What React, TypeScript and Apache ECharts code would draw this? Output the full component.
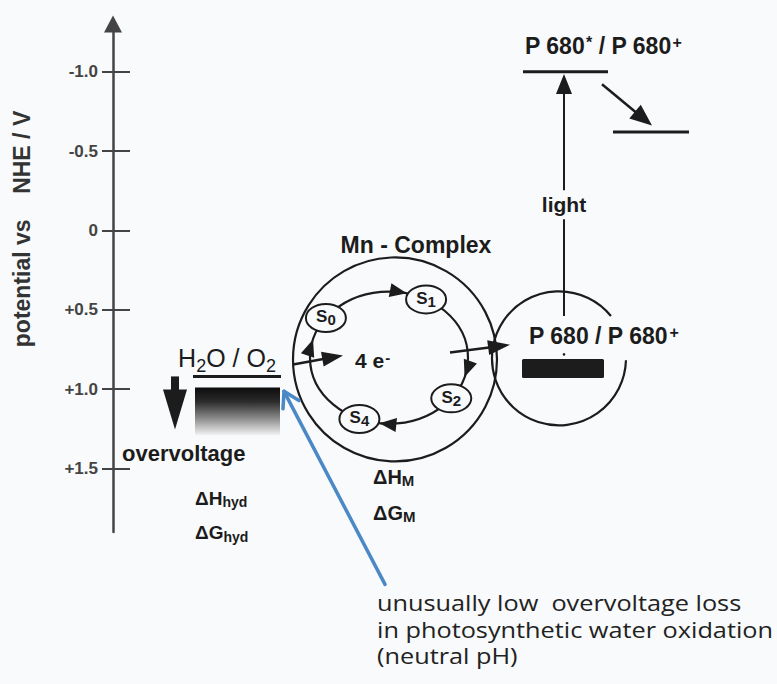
import React, { useEffect, useRef } from "react";
import * as echarts from "echarts";

// ---------- data ----------
// potential axis (V vs NHE); drawn inverted: negative potentials at the top
const tickValues = [-1.0, -0.5, 0, 0.5, 1.0, 1.5];
const tickLabels = ["-1.0", "-0.5", "0", "+0.5", "+1.0", "+1.5"];
const axisTitle = "potential vs    NHE / V";

// energy levels: H2O/O2, P680*/P680+, acceptor  (x in diagram units from the axis)
const levelX1 = [80, 410, 500];
const levelX2 = [168, 495, 576];
const levelV = [0.92, -1.0, -0.62];

// filled boxes: P680 pigment bar, overvoltage band
const boxX1 = [409, 82];
const boxX2 = [491, 167];
const boxTop = [0.81, 0.99];
const boxBottom = [0.93, 1.29];

// arrows: light, electron transfer, overvoltage, 4e-, Mn -> P680, annotation
const arrowX1 = [451, 489, 62, 180, 337, 272];
const arrowV1 = [0.54, -0.92, 0.92, 0.845, 0.77, 2.23];
const arrowX2 = [451, 539, 62, 230, 397, 171];
const arrowV2 = [-0.985, -0.66, 1.254, 0.788, 0.72, 1.014];

// circles: Mn complex, P680
const circleX = [282, 446];
const circleV = [0.813, 0.806];
const circleR = [102, 67];

// Kok cycle
const cycleCenter = [276, 0.802];
const cycleRadii = [79, 0.416];
const stateNames = ["S0", "S1", "S2", "S4"];
const stateAngles = [217, 298, 38, 112];
const cycleArrowAngles = [283, 17, 97, 196];

// ---------- styles ----------
const INK = "#1c1c1c";
const BLUE = "#4a88c6";
const BG = "#f8fafb";
const FONT = '"Liberation Sans", Arial, sans-serif';
const NOTE_FONT = '"Open Sans", sans-serif';

const ARROW_STYLE = [
  { color: INK, width: 2, head: 20, half: 8 },
  { color: INK, width: 2.5, head: 22, half: 9 },
  { color: INK, width: 8, head: 40, half: 12 },
  { color: INK, width: 2.5, head: 21, half: 7.5 },
  { color: INK, width: 2.5, head: 22, half: 7.5 },
  { color: BLUE, width: 3.5, head: 15, half: 9, open: true },
];

type Note = {
  x: number; v: number; align: string; f: number; w: string; family?: string;
  parts: [string, string][]; sub?: number; drop?: number; sup?: number; bg?: boolean; scaleX?: number; color?: string;
};

const notes: Note[] = [
  { x: 303, v: 0.089, align: "center", f: 23, w: "bold", parts: [["m", "Mn - Complex"]] },
  { x: 242, v: 0.82, align: "left", f: 21, w: "bold", parts: [["m", "4 e"], ["sp", "-"]], sup: 15 },
  { x: 114, v: 0.807, align: "center", f: 25, w: "normal", parts: [["m", "H"], ["sb", "2"], ["m", "O / O"], ["sb", "2"]], sub: 18, drop: 5 },
  { x: 9, v: 1.405, align: "left", f: 22, w: "bold", parts: [["m", "overvoltage"]] },
  { x: 82, v: 1.686, align: "left", f: 19, w: "bold", parts: [["m", "ΔH"], ["sb", "hyd"]], sub: 14, drop: 2 },
  { x: 82, v: 1.906, align: "left", f: 19, w: "bold", parts: [["m", "ΔG"], ["sb", "hyd"]], sub: 14, drop: 2 },
  { x: 260, v: 1.553, align: "left", f: 20, w: "bold", parts: [["m", "ΔH"], ["sb", "M"]], sub: 15, drop: 2 },
  { x: 260, v: 1.78, align: "left", f: 20, w: "bold", parts: [["m", "ΔG"], ["sb", "M"]], sub: 15, drop: 2 },
  { x: 451, v: -0.162, align: "center", f: 21, w: "bold", parts: [["m", "light"]], bg: true },
  { x: 412, v: -1.161, align: "left", f: 23, w: "bold", parts: [["m", "P 680"], ["sp", "*"], ["m", " / P 680"], ["sp", "+"]], sup: 16 },
  { x: 416, v: 0.666, align: "left", f: 23, w: "bold", parts: [["m", "P 680 / P 680"], ["sp", "+"]], sup: 16 },
  { x: 264, v: 2.345, align: "left", f: 22, w: "normal", family: NOTE_FONT, parts: [["m", "unusually low  overvoltage loss"]], scaleX: 1.15, color: "#222" },
  { x: 264, v: 2.515, align: "left", f: 22, w: "normal", family: NOTE_FONT, parts: [["m", "in photosynthetic water oxidation"]], scaleX: 1.15, color: "#222" },
  { x: 264, v: 2.68, align: "left", f: 22, w: "normal", family: NOTE_FONT, parts: [["m", "(neutral pH)"]], scaleX: 1.15, color: "#222" },
];

function richFor(f: number, w: string, family: string, sub = 12, drop = 4, sup = 12, color = INK) {
  return {
    m: { fontSize: f, fontWeight: w, fontFamily: family, lineHeight: f, verticalAlign: "top", fill: color },
    sb: {
      fontSize: sub, fontWeight: w, fontFamily: family, lineHeight: sub, verticalAlign: "top", fill: color,
      padding: [Math.max(0, 0.85 * f + drop - 0.85 * sub), 0, 0, 0],
    },
    sp: { fontSize: sup, fontWeight: w, fontFamily: family, lineHeight: sup, verticalAlign: "top", fill: color, padding: [0, 0, 0, 1] },
  };
}

function head(tip: number[], ux: number, uy: number, len: number, half: number) {
  const bx = tip[0] - ux * len, by = tip[1] - uy * len;
  const nx = -uy, ny = ux;
  return [[tip[0], tip[1]], [bx + nx * half, by + ny * half], [bx - nx * half, by - ny * half]];
}

export default function App() {
  const ref = useRef<HTMLDivElement>(null);
  useEffect(() => {
    if (!ref.current) return;
    const chart = echarts.init(ref.current, undefined, { renderer: "svg" });

    const yBase = {
      type: "value", inverse: true, min: -1.3, max: 1.9, position: "left",
      splitLine: { show: false },
    };

    const option: any = {
      animation: false,
      backgroundColor: BG,
      grid: { left: 113, right: 0, top: 24, bottom: 152, containLabel: false },
      xAxis: { type: "value", min: 0, max: 664, show: false },
      yAxis: [
        {
          ...yBase,
          name: axisTitle,
          nameLocation: "middle",
          nameRotate: 90,
          nameGap: 80,
          nameTextStyle: { fontFamily: FONT, fontWeight: "bold", fontSize: 23, color: "#333", padding: [0, 0, 0, 98] },
          axisLine: { show: true, symbol: ["none", "triangle"], symbolSize: [18, 17], lineStyle: { color: "#444", width: 2.5 } },
          axisTick: { show: true, customValues: tickValues, length: 11, lineStyle: { color: "#444", width: 2 } },
          axisLabel: {
            show: true, customValues: tickValues, margin: 15,
            formatter: (val: number) => {
              const i = tickValues.findIndex((t) => Math.abs(t - val) < 1e-9);
              return i >= 0 ? tickLabels[i] : "";
            },
            fontFamily: FONT, fontWeight: "bold", fontSize: 17, color: "#444",
          },
        },
        {
          ...yBase,
          axisLine: { show: false },
          axisTick: { show: true, inside: true, customValues: tickValues, length: 17, lineStyle: { color: "#444", width: 2 } },
          axisLabel: { show: false },
        },
      ],
      series: [
        // circles
        {
          type: "custom", coordinateSystem: "cartesian2d", silent: true, z: 1,
          data: circleX.map((x, i) => [x, circleV[i], circleR[i]]),
          renderItem: (params: any, api: any) => {
            const c = api.coord([api.value(0), api.value(1)]);
            const r = api.size([api.value(2), 0])[0];
            const style = { stroke: INK, lineWidth: 2.2, fill: "none" };
            if (params.dataIndex === 1) {
              return {
                type: "group",
                children: [
                  { type: "arc", shape: { cx: c[0], cy: c[1], r, startAngle: 0.03, endAngle: 5.6, clockwise: true }, style },
                  { type: "circle", shape: { cx: c[0] + 5, cy: c[1] - 4, r: 1.3 }, style: { fill: INK } },
                ],
              };
            }
            return { type: "circle", shape: { cx: c[0], cy: c[1], r }, style };
          },
        },
        // Kok cycle track and arrowheads
        {
          type: "custom", coordinateSystem: "cartesian2d", silent: true, z: 2,
          data: [cycleCenter],
          renderItem: (params: any, api: any) => {
            const c = api.coord([api.value(0), api.value(1)]);
            const sz = api.size([cycleRadii[0], cycleRadii[1]]);
            const rx = sz[0], ry = sz[1];
            const children: any[] = [
              { type: "ellipse", shape: { cx: c[0], cy: c[1], rx, ry }, style: { stroke: INK, lineWidth: 2.2, fill: "none" } },
            ];
            cycleArrowAngles.forEach((deg) => {
              const t = (deg * Math.PI) / 180;
              const tip = [c[0] + rx * Math.cos(t), c[1] + ry * Math.sin(t)];
              let dx = -rx * Math.sin(t), dy = ry * Math.cos(t);
              const l = Math.hypot(dx, dy); dx /= l; dy /= l;
              children.push({ type: "polygon", shape: { points: head(tip, dx, dy, 17, 7) }, style: { fill: INK } });
            });
            return { type: "group", children };
          },
        },
        // energy levels
        {
          type: "custom", coordinateSystem: "cartesian2d", silent: true, z: 3,
          data: levelV.map((v, i) => [levelX1[i], v, levelX2[i]]),
          renderItem: (params: any, api: any) => {
            const p1 = api.coord([api.value(0), api.value(1)]);
            const p2 = api.coord([api.value(2), api.value(1)]);
            return { type: "line", shape: { x1: p1[0], y1: p1[1], x2: p2[0], y2: p2[1] }, style: { stroke: INK, lineWidth: 3 } };
          },
        },
        // boxes
        {
          type: "custom", coordinateSystem: "cartesian2d", silent: true, z: 3,
          data: boxX1.map((x, i) => [x, boxTop[i], boxX2[i], boxBottom[i]]),
          renderItem: (params: any, api: any) => {
            const p1 = api.coord([api.value(0), api.value(1)]);
            const p2 = api.coord([api.value(2), api.value(3)]);
            const fill = params.dataIndex === 0
              ? INK
              : new echarts.graphic.LinearGradient(0, 0, 0, 1, [
                  { offset: 0, color: "#0c0c0c" },
                  { offset: 0.3, color: "#2c2c2c" },
                  { offset: 0.65, color: "#8c8c8c" },
                  { offset: 1, color: "#f2f2f2" },
                ]);
            return {
              type: "rect",
              shape: { x: p1[0], y: p1[1], width: p2[0] - p1[0], height: p2[1] - p1[1], r: params.dataIndex === 0 ? 1.5 : 0 },
              style: { fill },
            };
          },
        },
        // arrows
        {
          type: "custom", coordinateSystem: "cartesian2d", silent: true, z: 4,
          data: arrowX1.map((x, i) => [x, arrowV1[i], arrowX2[i], arrowV2[i]]),
          renderItem: (params: any, api: any) => {
            const s: any = ARROW_STYLE[params.dataIndex];
            const p1 = api.coord([api.value(0), api.value(1)]);
            const p2 = api.coord([api.value(2), api.value(3)]);
            const dx = p2[0] - p1[0], dy = p2[1] - p1[1];
            const len = Math.hypot(dx, dy);
            const ux = dx / len, uy = dy / len;
            const pts = head(p2, ux, uy, s.head, s.half);
            if (s.open) {
              return {
                type: "group",
                children: [
                  { type: "line", shape: { x1: p1[0], y1: p1[1], x2: p2[0], y2: p2[1] }, style: { stroke: s.color, lineWidth: s.width, lineCap: "round" } },
                  { type: "polyline", shape: { points: [pts[1], pts[0], pts[2]] }, style: { stroke: s.color, lineWidth: s.width, fill: "none", lineJoin: "round", lineCap: "round" } },
                ],
              };
            }
            const bx = p2[0] - ux * (s.head - 1), by = p2[1] - uy * (s.head - 1);
            return {
              type: "group",
              children: [
                { type: "line", shape: { x1: p1[0], y1: p1[1], x2: bx, y2: by }, style: { stroke: s.color, lineWidth: s.width } },
                { type: "polygon", shape: { points: pts }, style: { fill: s.color } },
              ],
            };
          },
        },
        // S states
        {
          type: "custom", coordinateSystem: "cartesian2d", silent: true, z: 5,
          data: stateAngles.map((a) => [a]),
          renderItem: (params: any, api: any) => {
            const c = api.coord(cycleCenter);
            const sz = api.size([cycleRadii[0], cycleRadii[1]], cycleCenter);
            const t = (api.value(0) * Math.PI) / 180;
            const px = c[0] + sz[0] * Math.cos(t), py = c[1] + sz[1] * Math.sin(t);
            const name = stateNames[params.dataIndex];
            const f = 17;
            return {
              type: "group",
              children: [
                { type: "ellipse", shape: { cx: px, cy: py, rx: 20, ry: 14 }, style: { fill: BG, stroke: INK, lineWidth: 2 } },
                {
                  type: "text", x: px, y: py - f / 2 - 1,
                  style: {
                    text: `{m|${name[0]}}{sb|${name.slice(1)}}`,
                    align: "center", verticalAlign: "top",
                    rich: richFor(f, "bold", FONT, 15, 2),
                  },
                },
              ],
            };
          },
        },
        // texts
        {
          type: "custom", coordinateSystem: "cartesian2d", silent: true, z: 6,
          data: notes.map((n) => [n.x, n.v]),
          renderItem: (params: any, api: any) => {
            const n = notes[params.dataIndex];
            const p = api.coord([api.value(0), api.value(1)]);
            const family = n.family || FONT;
            const pad = n.bg ? 4 : 0;
            const text = n.parts.map(([k, t]) => `{${k}|${t}}`).join("");
            return {
              type: "text",
              x: p[0], y: p[1] - n.f / 2 - pad,
              scaleX: n.scaleX || 1,
              style: {
                text,
                align: n.align, verticalAlign: "top",
                rich: richFor(n.f, n.w, family, n.sub, n.drop, n.sup, n.color || INK),
                backgroundColor: n.bg ? BG : undefined,
                padding: n.bg ? [pad, 3, pad, 3] : undefined,
              },
            };
          },
        },
      ],
    };
    chart.setOption(option);
    return () => chart.dispose();
  }, []);

  return <div ref={ref} style={{ position: "fixed", left: 0, top: 0, width: 777, height: 684 }} />;
}
